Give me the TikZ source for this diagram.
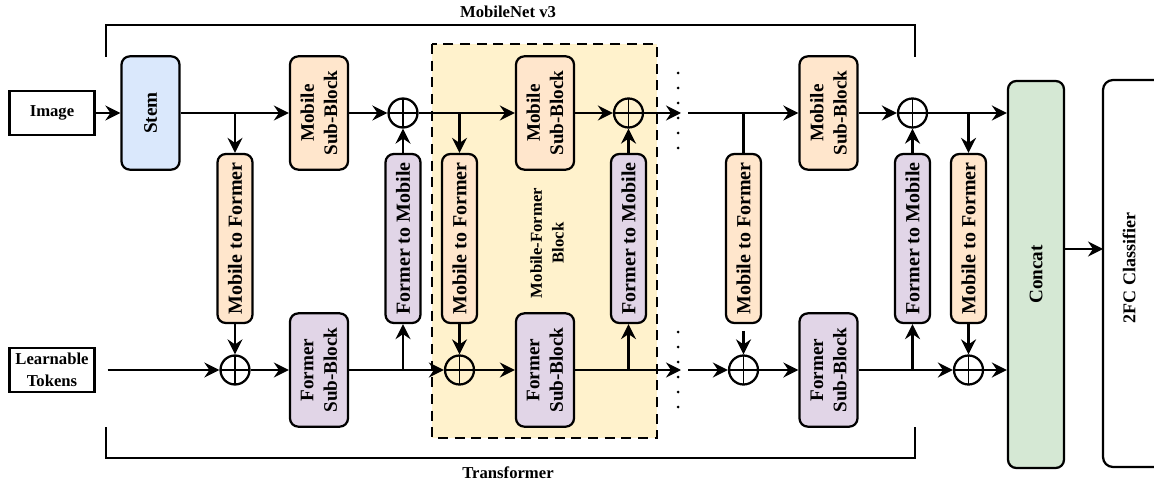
\documentclass[tikz,border=0pt]{standalone}
\usepackage{fontspec}
\setmainfont{Liberation Serif}
\usetikzlibrary{arrows.meta}
\definecolor{stemblue}{HTML}{DAE8FC}
\definecolor{mobileorange}{HTML}{FFE6CC}
\definecolor{formerpurple}{HTML}{E1D5E7}
\definecolor{concatgreen}{HTML}{D5E8D4}
\definecolor{blockyellow}{HTML}{FFF2CC}
\tikzset{
    wire/.style={line width=1.35pt},
    arr/.style={wire, -{Stealth[length=9pt,width=9pt,inset=3pt]}},
    box/.style={draw, wire, rounded corners=5pt, rotate=90, align=center, inner sep=0pt,
        font=\bfseries\fontsize{11.5}{14}\selectfont},
    subblock/.style={box, minimum width=68pt, minimum height=34.8pt},
    bridge/.style={box, minimum width=101.4pt, minimum height=21pt, font=\bfseries\fontsize{12}{14}\selectfont},
    msub/.style={subblock, fill=mobileorange},
    fsub/.style={subblock, fill=formerpurple},
    m2f/.style={bridge, fill=mobileorange},
    f2m/.style={bridge, fill=formerpurple},
    inbox/.style={draw, wire, minimum width=51pt, minimum height=26.4pt, align=center, inner sep=0pt,
        font=\bfseries\fontsize{10}{13}\selectfont},
    oplus/.style={draw, wire, circle, minimum size=17.4pt, inner sep=0pt,
        path picture={\draw[line width=1pt] (path picture bounding box.north) -- (path picture bounding box.south)
            (path picture bounding box.east) -- (path picture bounding box.west);}},
    vdots/.style={line width=1.8pt, line cap=round, dash pattern=on 0pt off 9pt},
    label/.style={font=\bfseries\fontsize{10}{13}\selectfont, align=center}
}
\begin{document}
\begin{tikzpicture}[x=0.6pt, y=-0.6pt]
\useasboundingbox (0,0) rectangle (1154,482);

\draw[wire, fill=blockyellow, dash pattern=on 6pt off 4pt] (432,44) rectangle (657,438);
\node[label, rotate=90] (mfb) at (547,243) {Mobile-Former\\Block};

\draw[wire] (106,57) -- (106,25) -- (915,25) -- (915,57);
\node[label] (mnet) at (508,12) {MobileNet v3};
\draw[wire] (106,427) -- (106,458) -- (915,458) -- (915,427);
\node[label] (trf) at (508,473) {Transformer};

\node[inbox] (img) at (52,113) {Image};
\node[inbox] (tok) at (52,370) {Learnable\\Tokens};
\node[subblock, fill=stemblue] (stem) at (150.5,113) {Stem};

\node[m2f] (mtf1) at (235,238.5) {Mobile to Former};
\node[msub] (msb1) at (319,113) {Mobile\\Sub-Block};
\node[fsub] (fsb1) at (319,370) {Former\\Sub-Block};
\node[f2m] (ftm1) at (403,238.5) {Former to Mobile};
\node[oplus] (opb1) at (235,370) {};
\node[oplus] (opt1) at (403,113) {};

\node[m2f] (mtf2) at (459.5,238.5) {Mobile to Former};
\node[msub] (msb2) at (545,113) {Mobile\\Sub-Block};
\node[fsub] (fsb2) at (545,370) {Former\\Sub-Block};
\node[f2m] (ftm2) at (628.5,238.5) {Former to Mobile};
\node[oplus] (opb2) at (459.5,370) {};
\node[oplus] (opt2) at (628.5,113) {};

\node[m2f] (mtf3) at (743.5,238.5) {Mobile to Former};
\node[msub] (msb3) at (828.5,113) {Mobile\\Sub-Block};
\node[fsub] (fsb3) at (828.5,370) {Former\\Sub-Block};
\node[f2m] (ftm3) at (912.5,238.5) {Former to Mobile};
\node[m2f] (mtf4) at (968.5,238.5) {Mobile to Former};
\node[oplus] (opb3) at (743.5,370) {};
\node[oplus] (opt3) at (912.5,113) {};
\node[oplus] (opb4) at (968.5,370) {};

\node[box, fill=concatgreen, minimum width=232.2pt, minimum height=33.6pt] (concat) at (1036,274.5) {Concat};
\node[label, rotate=90, font=\bfseries\fontsize{10.8}{14}\selectfont] (cls) at (1129,268) {2FC Classifier};
\draw[wire, rounded corners=6pt] (1170,80) -- (1103,80) -- (1103,467) -- (1170,467);

\coordinate (b1) at (mtf1 |- stem);
\coordinate (b2) at (ftm1 |- fsb1);
\coordinate (b3) at (mtf2 |- opt1);
\coordinate (b4) at (ftm2 |- fsb2);
\coordinate (b5) at (mtf3 |- msb3);
\coordinate (b6) at (ftm3 |- fsb3);
\coordinate (b7) at (mtf4 |- opt3);
\coordinate (dt) at (681,113);
\coordinate (db) at (681,370);
\coordinate (st) at (688,113);
\coordinate (sb) at (688,370);
\coordinate (clsin) at (1103,249);

\draw[arr] (img) -- (stem);
\draw[arr] (stem) -- (msb1);
\draw[arr] (b1) -- (mtf1);
\draw[arr] (mtf1) -- (opb1);
\draw[arr, shorten <=7.2pt] (tok) -- (opb1);
\draw[arr] (opb1) -- (fsb1);
\draw[arr] (msb1) -- (opt1);
\draw[arr] (ftm1) -- (opt1);
\draw[arr] (fsb1) -- (opb2);
\draw[arr] (b2) -- (ftm1);

\draw[arr] (opt1) -- (msb2);
\draw[arr] (b3) -- (mtf2);
\draw[arr] (mtf2) -- (opb2);
\draw[arr] (opb2) -- (fsb2);
\draw[arr] (msb2) -- (opt2);
\draw[arr] (ftm2) -- (opt2);
\draw[arr] (b4) -- (ftm2);
\draw[arr] (opt2) -- (dt);
\draw[arr] (fsb2) -- (db);

\draw[vdots] (678,73) -- (678,155);
\draw[vdots] (678,332) -- (678,413);

\draw[arr] (st) -- (msb3);
\draw[wire] (b5) -- (mtf3);
\draw[arr, shorten <=4pt] (mtf3) -- (opb3);
\draw[arr] (sb) -- (opb3);
\draw[arr] (opb3) -- (fsb3);
\draw[arr] (msb3) -- (opt3);
\draw[arr] (ftm3) -- (opt3);
\draw[arr] (fsb3) -- (opb4);
\draw[arr] (b6) -- (ftm3);
\draw[arr] (b7) -- (mtf4);
\draw[arr] (mtf4) -- (opb4);
\draw[arr] (opt3) -- (opt3 -| concat.north);
\draw[arr] (opb4) -- (opb4 -| concat.north);
\draw[arr] (clsin -| concat.south) -- (clsin);
\end{tikzpicture}
\end{document}
